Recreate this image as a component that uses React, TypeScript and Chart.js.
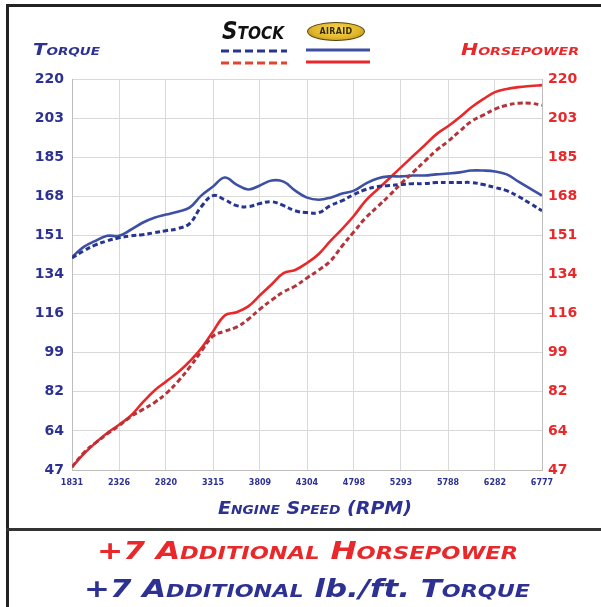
import React, { useEffect, useLayoutEffect, useRef } from "react";
import { Chart, registerables } from "chart.js";

Chart.register(...registerables);

// ---- data ----
const rpm = [
  1831, 1955, 2078, 2202, 2326, 2449, 2573, 2697, 2820, 2944, 3068, 3191, 3315, 3438,
  3562, 3686, 3809, 3933, 4057, 4180, 4304, 4428, 4551, 4675, 4798, 4922, 5046, 5169,
  5293, 5417, 5540, 5664, 5788, 5911, 6035, 6159, 6282, 6406, 6530, 6653, 6777,
];

const airaidTorque = [
  141.3, 145.7, 148.4, 150.6, 150.6, 153.3, 156.4, 158.6, 160.0, 161.3, 163.1, 168.4, 172.4, 176.4,
  173.3, 171.1, 172.9, 175.1, 174.6, 170.6, 167.5, 166.6, 167.5, 169.3, 170.6, 173.7, 176.0, 176.9,
  176.9, 177.3, 177.3, 177.8, 178.2, 178.7, 179.5, 179.5, 179.1, 177.8, 174.6, 171.5, 168.4,
];

const stockTorque = [
  140.8, 144.0, 146.6, 148.4, 149.7, 150.6, 151.1, 152.0, 152.9, 153.8, 156.0, 163.5, 168.4, 166.6,
  164.0, 163.5, 164.9, 165.7, 164.0, 161.7, 160.9, 160.9, 164.0, 166.2, 168.9, 171.1, 172.4, 172.9,
  173.3, 173.7, 173.7, 174.2, 174.2, 174.2, 174.2, 173.3, 172.0, 170.6, 168.0, 164.9, 161.7,
];

const airaidHp = [
  48.3, 54.1, 59.0, 63.4, 67.0, 71.0, 76.8, 82.1, 86.1, 90.1, 95.0, 100.8, 108.3, 115.4,
  116.8, 119.4, 124.3, 129.2, 134.1, 135.5, 138.6, 142.6, 148.4, 153.7, 159.5, 166.2, 171.1, 176.0,
  180.9, 185.8, 190.6, 195.5, 199.1, 203.1, 207.5, 211.1, 214.2, 215.6, 216.4, 216.9, 217.3,
];

const stockHp = [
  48.3, 54.6, 59.0, 63.0, 66.6, 70.6, 73.7, 76.8, 80.8, 86.1, 92.4, 99.5, 106.2, 108.4,
  110.2, 113.7, 118.2, 122.2, 125.8, 128.4, 132.0, 135.5, 139.5, 146.2, 152.4, 158.6, 163.5, 168.4,
  173.7, 178.6, 183.5, 188.4, 192.4, 196.9, 201.3, 204.0, 206.7, 208.4, 209.3, 209.3, 208.4,
];

const xTickValues = [1831, 2326, 2820, 3315, 3809, 4304, 4798, 5293, 5788, 6282, 6777];
const yTickValues = [47, 64.3, 81.6, 98.9, 116.2, 133.5, 150.8, 168.1, 185.4, 202.7, 220];
const yTickLabels = ["47", "64", "82", "99", "116", "134", "151", "168", "185", "203", "220"];

// ---- colours ----
const NAVY = "#2d3192";
const BLUE = "#3d50a3";
const BLUE_DASH = "#283590";
const RED = "#e8282b";
const RED_DASH = "#b3343a";
const FONT = "'DejaVu Sans', sans-serif";

type FitProps = {
  x: number;
  y: number;
  w: number;
  size: number;
  color: string;
  children: React.ReactNode;
  italic?: boolean;
};

function FitText({ x, y, w, size, color, children, italic = true }: FitProps) {
  const ref = useRef<HTMLDivElement>(null);
  useLayoutEffect(() => {
    const el = ref.current;
    if (!el) return;
    el.style.transform = "none";
    const natural = el.getBoundingClientRect().width;
    if (natural > 0) el.style.transform = `scaleX(${w / natural})`;
  }, [w]);
  return (
    <div
      ref={ref}
      style={{
        position: "absolute",
        left: x,
        top: y - size * 0.5,
        fontFamily: FONT,
        fontWeight: "bold",
        fontStyle: italic ? "italic" : "normal",
        fontVariant: "small-caps",
        fontSize: size,
        lineHeight: 1,
        color,
        whiteSpace: "nowrap",
        transformOrigin: "left center",
      }}
    >
      {children}
    </div>
  );
}

function ChartCanvas() {
  const canvasRef = useRef<HTMLCanvasElement>(null);
  useEffect(() => {
    const canvas = canvasRef.current;
    if (!canvas) return;
    const pts = (vals: number[]) => rpm.map((x, i) => ({ x, y: vals[i] }));
    const tickFontY = { family: FONT, size: 14, weight: "bold" as const };
    const chart = new Chart(canvas, {
      type: "line",
      data: {
        datasets: [
          {
            label: "Stock Torque",
            data: pts(stockTorque),
            borderColor: BLUE_DASH,
            borderWidth: 3,
            borderDash: [5, 3],
            pointRadius: 0,
            tension: 0.4,
            yAxisID: "y",
          },
          {
            label: "Stock Horsepower",
            data: pts(stockHp),
            borderColor: RED_DASH,
            borderWidth: 3,
            borderDash: [5, 3],
            pointRadius: 0,
            tension: 0.4,
            yAxisID: "y2",
          },
          {
            label: "AIRAID Torque",
            data: pts(airaidTorque),
            borderColor: BLUE,
            borderWidth: 2.6,
            pointRadius: 0,
            tension: 0.4,
            yAxisID: "y",
          },
          {
            label: "AIRAID Horsepower",
            data: pts(airaidHp),
            borderColor: RED,
            borderWidth: 2.6,
            pointRadius: 0,
            tension: 0.4,
            yAxisID: "y2",
          },
        ],
      },
      options: {
        responsive: false,
        animation: false,
        layout: { padding: { left: 20, right: 22, top: 79, bottom: 107 } },
        plugins: { legend: { display: false }, tooltip: { enabled: false } },
        scales: {
          x: {
            type: "linear",
            min: 1831,
            max: 6777,
            afterBuildTicks: (s: any) => {
              s.ticks = xTickValues.map((v) => ({ value: v }));
            },
            afterFit: (s: any) => {
              s.height = 30;
            },
            ticks: {
              autoSkip: false,
              maxRotation: 0,
              padding: 8,
              color: NAVY,
              font: { family: FONT, size: 8, weight: "bold" },
              callback: (v: any) => String(v),
            },
            grid: { color: "#d9d9d9", drawTicks: false },
            border: { color: "#bdbdbd" },
          },
          y: {
            position: "left",
            min: 47,
            max: 220,
            afterBuildTicks: (s: any) => {
              s.ticks = yTickValues.map((v) => ({ value: v }));
            },
            afterFit: (s: any) => {
              s.width = 52;
            },
            ticks: {
              autoSkip: false,
              padding: 8,
              color: NAVY,
              font: tickFontY,
              callback: (_v: any, i: number) => yTickLabels[i],
            },
            grid: { color: "#d9d9d9", drawTicks: false },
            border: { color: "#bdbdbd" },
          },
          y2: {
            position: "right",
            min: 47,
            max: 220,
            afterBuildTicks: (s: any) => {
              s.ticks = yTickValues.map((v) => ({ value: v }));
            },
            afterFit: (s: any) => {
              s.width = 37;
            },
            ticks: {
              autoSkip: false,
              padding: 6,
              color: RED,
              font: tickFontY,
              callback: (_v: any, i: number) => yTickLabels[i],
            },
            grid: { display: false, drawTicks: false },
            border: { color: "#bdbdbd" },
          },
        },
      },
    });
    return () => chart.destroy();
  }, []);
  return (
    <canvas
      ref={canvasRef}
      width={601}
      height={607}
      style={{ position: "absolute", left: 0, top: 0, width: 601, height: 607 }}
    />
  );
}

export default function App() {
  const line = (x1: number, x2: number, y: number, color: string, dash?: string) => (
    <line x1={x1} x2={x2} y1={y} y2={y} stroke={color} strokeWidth={3} strokeDasharray={dash} />
  );
  return (
    <div
      style={{
        position: "absolute",
        left: 0,
        top: 0,
        width: 601,
        height: 607,
        background: "#fff",
        overflow: "hidden",
      }}
    >
      <ChartCanvas />
      {/* frame */}
      <div style={{ position: "absolute", left: 6, top: 4, width: 595, height: 3, background: "#222" }} />
      <div style={{ position: "absolute", left: 6, top: 4, width: 3, height: 603, background: "#222" }} />
      <div style={{ position: "absolute", left: 6, top: 528, width: 595, height: 3, background: "#333" }} />

      {/* axis titles */}
      <FitText x={33} y={50} w={67} size={16} color={NAVY}>Torque</FitText>
      <FitText x={461} y={50} w={118} size={16} color={RED}>Horsepower</FitText>
      <FitText x={218} y={508} w={194} size={18} color={NAVY}>Engine Speed (RPM)</FitText>

      {/* legend */}
      <FitText x={222} y={31} w={62} size={24} color="#111">Stock</FitText>
      <div
        style={{
          position: "absolute",
          left: 307,
          top: 22,
          width: 58,
          height: 19,
          borderRadius: "50%",
          background: "radial-gradient(ellipse at 50% 40%, #f7dc5a 0%, #e0b42a 60%, #a07812 100%)",
          border: "1px solid #5a4408",
          boxSizing: "border-box",
          display: "flex",
          alignItems: "center",
          justifyContent: "center",
          fontFamily: FONT,
          fontWeight: "bold",
          fontSize: 8,
          color: "#3a2a00",
          letterSpacing: 0.3,
        }}
      >
        AIRAID
      </div>
      <svg
        width={601}
        height={80}
        style={{ position: "absolute", left: 0, top: 0, pointerEvents: "none" }}
      >
        {line(221, 287, 51, BLUE_DASH, "8 4")}
        {line(221, 287, 63, "#e0452f", "8 4")}
        {line(306, 370, 50, BLUE)}
        {line(306, 370, 62, RED)}
      </svg>

      {/* summary */}
      <FitText x={97} y={550} w={421} size={25} color={RED}>+7 Additional Horsepower</FitText>
      <FitText x={84} y={588} w={446} size={25} color={NAVY}>
        +7 Additional <span style={{ fontVariant: "normal" }}>lb./ft.</span> Torque
      </FitText>
    </div>
  );
}
